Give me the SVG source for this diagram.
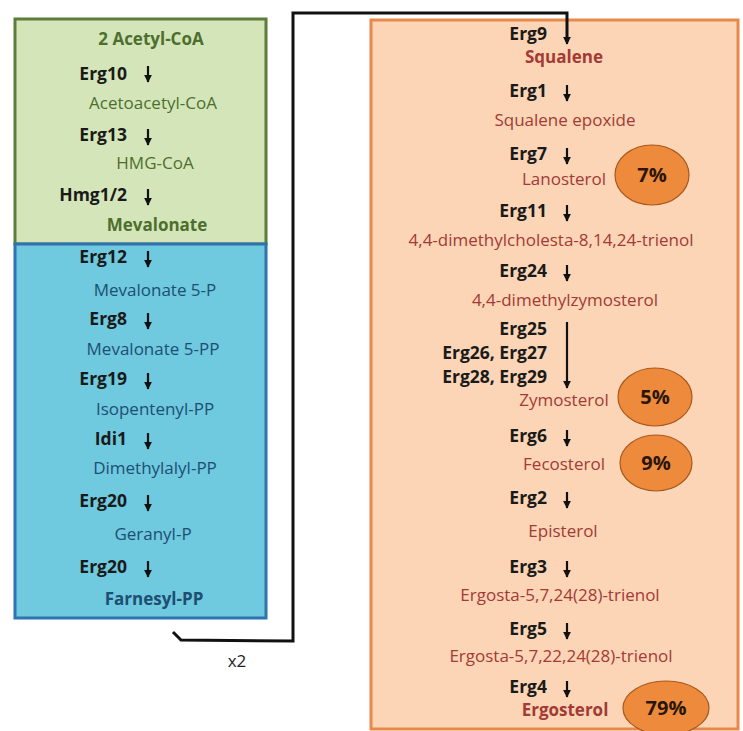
<svg xmlns="http://www.w3.org/2000/svg" width="743" height="731" viewBox="0 0 743 731">
<defs>
<marker id="ah" viewBox="0 0 10 10" refX="9" refY="5" markerWidth="8" markerHeight="8" orient="auto" markerUnits="userSpaceOnUse">
<path d="M0,0 L10,5 L0,10 z" fill="#111"/>
</marker>
<style>
text{font-family:"Open Sans","Liberation Sans",sans-serif;font-size:17px}
.enz{font-weight:bold;font-size:17.5px;fill:#1a1a1a;text-anchor:end}
.g{fill:#4e6e2e;text-anchor:middle}
.b{fill:#1d4f72;text-anchor:middle}
.r{fill:#a33a35;text-anchor:middle}
.bold{font-weight:bold}
.arr{stroke:#111;stroke-width:2.2;fill:none;marker-end:url(#ah)}
.pct{fill:#ee8a3c;stroke:#a9581c;stroke-width:1.2}
.pt{font-weight:bold;font-size:20px;fill:#2a1608;text-anchor:middle}
</style>
</defs>
<rect width="743" height="731" fill="#ffffff"/>
<g id="green-box">
<rect x="15" y="19" width="251" height="225" fill="#d4e6b9" stroke="#5c7d3a" stroke-width="3"/>
</g>
<g id="blue-box">
<rect x="15" y="244" width="251" height="374" fill="#6fc9df" stroke="#2f73b0" stroke-width="3"/>
</g>
<g id="orange-box">
<rect x="371" y="20" width="367" height="709" fill="#fcd5b6" stroke="#e8884b" stroke-width="3"/>
</g>
<g id="connectors">
<path d="M173,632 L181,640 L293,641 L293,13 L567,13 L567,42" fill="none" stroke="#111" stroke-width="3"/>
<path class="arr" d="M567,38 V44"/>
<path class="arr" d="M148,66 V82"/>
<path class="arr" d="M148,129 V145"/>
<path class="arr" d="M148,189 V205"/>
<path class="arr" d="M148,251 V267"/>
<path class="arr" d="M148,313 V329"/>
<path class="arr" d="M148,373 V389"/>
<path class="arr" d="M148,433 V449"/>
<path class="arr" d="M148,495 V511"/>
<path class="arr" d="M148,561 V577"/>
<path class="arr" d="M567,85 V101"/>
<path class="arr" d="M567,148 V164"/>
<path class="arr" d="M567,205 V221"/>
<path class="arr" d="M567,265 V281"/>
<path class="arr" d="M567,322 V388"/>
<path class="arr" d="M567,430 V446"/>
<path class="arr" d="M567,492 V508"/>
<path class="arr" d="M567,561 V577"/>
<path class="arr" d="M567,623 V639"/>
<path class="arr" d="M567,681 V697"/>
</g>
<text x="237" y="667" style="font-size:17px;fill:#222;text-anchor:middle">x2</text>
<g id="n-acetylcoa"><text class="g bold" x="151" y="45">2 Acetyl-CoA</text></g>
<g id="e-erg10"><text class="enz" x="127" y="80">Erg10</text></g>
<g id="n-acetoacetylcoa"><text class="g" x="153" y="109">Acetoacetyl-CoA</text></g>
<g id="e-erg13"><text class="enz" x="127" y="141">Erg13</text></g>
<g id="n-hmgcoa"><text class="g" x="155" y="169">HMG-CoA</text></g>
<g id="e-hmg12"><text class="enz" x="127" y="201">Hmg1/2</text></g>
<g id="n-mevalonate"><text class="g bold" x="157" y="231">Mevalonate</text></g>
<g id="e-erg12"><text class="enz" x="127" y="263">Erg12</text></g>
<g id="n-mev5p"><text class="b" x="155" y="296">Mevalonate 5-P</text></g>
<g id="e-erg8"><text class="enz" x="127" y="325">Erg8</text></g>
<g id="n-mev5pp"><text class="b" x="153" y="355">Mevalonate 5-PP</text></g>
<g id="e-erg19"><text class="enz" x="127" y="385">Erg19</text></g>
<g id="n-ipp"><text class="b" x="155" y="415">Isopentenyl-PP</text></g>
<g id="e-idi1"><text class="enz" x="127" y="445">Idi1</text></g>
<g id="n-dmapp"><text class="b" x="155" y="474">Dimethylalyl-PP</text></g>
<g id="e-erg20a"><text class="enz" x="127" y="507">Erg20</text></g>
<g id="n-geranylp"><text class="b" x="153" y="540">Geranyl-P</text></g>
<g id="e-erg20b"><text class="enz" x="127" y="573">Erg20</text></g>
<g id="n-fpp"><text class="b bold" x="154" y="605">Farnesyl-PP</text></g>
<g id="e-erg9"><text class="enz" x="547" y="40">Erg9</text></g>
<g id="n-squalene"><text class="r bold" x="564" y="63">Squalene</text></g>
<g id="e-erg1"><text class="enz" x="547" y="97">Erg1</text></g>
<g id="n-sqepox"><text class="r" x="565" y="126">Squalene epoxide</text></g>
<g id="e-erg7"><text class="enz" x="547" y="160">Erg7</text></g>
<g id="n-lanosterol"><text class="r" x="564" y="185">Lanosterol</text>
<ellipse class="pct" cx="652" cy="175" rx="37" ry="30"/><text class="pt" x="652" y="182">7%</text></g>
<g id="e-erg11"><text class="enz" x="547" y="217">Erg11</text></g>
<g id="n-dmct"><text class="r" x="551" y="246">4,4-dimethylcholesta-8,14,24-trienol</text></g>
<g id="e-erg24"><text class="enz" x="547" y="277">Erg24</text></g>
<g id="n-dmz"><text class="r" x="565" y="306">4,4-dimethylzymosterol</text></g>
<g id="e-erg25-29"><text class="enz" x="547" y="335">Erg25</text><text class="enz" x="547" y="359">Erg26, Erg27</text><text class="enz" x="547" y="383">Erg28, Erg29</text></g>
<g id="n-zymosterol"><text class="r" x="564" y="406">Zymosterol</text>
<ellipse class="pct" cx="655" cy="397" rx="37" ry="29"/><text class="pt" x="655" y="404">5%</text></g>
<g id="e-erg6"><text class="enz" x="547" y="442">Erg6</text></g>
<g id="n-fecosterol"><text class="r" x="564" y="470">Fecosterol</text>
<ellipse class="pct" cx="656" cy="463" rx="36" ry="28"/><text class="pt" x="656" y="470">9%</text></g>
<g id="e-erg2"><text class="enz" x="547" y="504">Erg2</text></g>
<g id="n-episterol"><text class="r" x="563" y="537">Episterol</text></g>
<g id="e-erg3"><text class="enz" x="547" y="573">Erg3</text></g>
<g id="n-ergosta1"><text class="r" x="560" y="601">Ergosta-5,7,24(28)-trienol</text></g>
<g id="e-erg5"><text class="enz" x="547" y="635">Erg5</text></g>
<g id="n-ergosta2"><text class="r" x="561" y="662">Ergosta-5,7,22,24(28)-trienol</text></g>
<g id="e-erg4"><text class="enz" x="547" y="693">Erg4</text></g>
<g id="n-ergosterol"><text class="r bold" x="565" y="716">Ergosterol</text>
<ellipse class="pct" cx="666" cy="708" rx="43" ry="27"/><text class="pt" x="666" y="715">79%</text></g>
</svg>
